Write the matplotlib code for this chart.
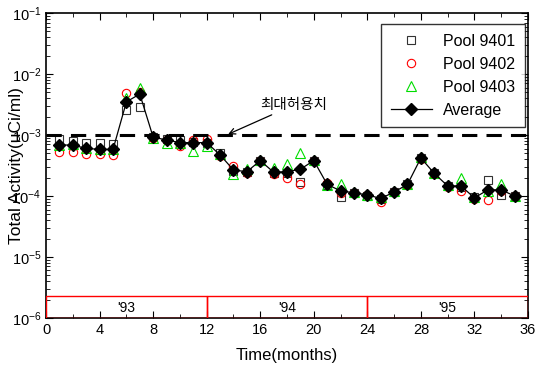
import matplotlib
matplotlib.use('Agg')
import matplotlib.pyplot as plt
from matplotlib.patches import Rectangle
from matplotlib.ticker import LogLocator, MultipleLocator, NullFormatter

plt.rcParams['font.family'] = ['Liberation Sans', 'Noto Sans CJK KR', 'DejaVu Sans']
plt.rcParams['mathtext.fontset'] = 'custom'
plt.rcParams['mathtext.rm'] = 'Liberation Sans'

months = list(range(1, 36))

pool_9401 = [8.5e-4, 8.1e-4, 7.5e-4, 7.3e-4, 7.1e-4, 2.6e-3, 2.9e-3, 9.2e-4, 8.5e-4, 8.3e-4,
             7.8e-4, 7.5e-4, 5.0e-4, 2.6e-4, 2.5e-4, 3.8e-4, 2.4e-4, 2.4e-4, 1.7e-4, 3.8e-4,
             1.5e-4, 9.8e-5, 1.1e-4, 1.0e-4, 9.0e-5, 1.15e-4, 1.55e-4, 4.2e-4, 2.35e-4, 1.46e-4,
             1.4e-4, 9.5e-5, 1.83e-4, 1.04e-4, 1.0e-4]
pool_9402 = [5.3e-4, 5.3e-4, 4.9e-4, 4.9e-4, 4.7e-4, 4.9e-3, 5.0e-3, 9.0e-4, 8.2e-4, 6.5e-4,
             8.3e-4, 8.5e-4, 4.5e-4, 3.1e-4, 2.4e-4, 3.7e-4, 2.3e-4, 1.95e-4, 1.55e-4, 3.8e-4,
             1.65e-4, 1.1e-4, 1.1e-4, 1.05e-4, 8.1e-5, 1.15e-4, 1.5e-4, 4.1e-4, 2.3e-4, 1.42e-4,
             1.22e-4, 9.0e-5, 8.6e-5, 1.2e-4, 1.0e-4]
pool_9403 = [6.9e-4, 7.0e-4, 6.2e-4, 5.9e-4, 5.9e-4, 4.0e-3, 6.0e-3, 9.0e-4, 7.5e-4, 7.5e-4,
             5.5e-4, 6.5e-4, 4.9e-4, 2.3e-4, 2.8e-4, 3.9e-4, 2.9e-4, 3.4e-4, 5.1e-4, 3.9e-4,
             1.5e-4, 1.55e-4, 1.15e-4, 1.05e-4, 9.5e-5, 1.2e-4, 1.55e-4, 4.3e-4, 2.4e-4, 1.5e-4,
             2.0e-4, 9.8e-5, 1.2e-4, 1.57e-4, 1.0e-4]
average = [6.9e-4, 6.8e-4, 6.05e-4, 5.8e-4, 5.8e-4, 3.5e-3, 4.7e-3, 9.2e-4, 8.3e-4, 7.5e-4,
           7.5e-4, 7.5e-4, 4.7e-4, 2.67e-4, 2.5e-4, 3.8e-4, 2.45e-4, 2.5e-4, 2.75e-4, 3.8e-4,
           1.55e-4, 1.21e-4, 1.13e-4, 1.04e-4, 9.1e-5, 1.16e-4, 1.55e-4, 4.2e-4, 2.35e-4, 1.46e-4,
           1.46e-4, 9.3e-5, 1.26e-4, 1.26e-4, 1.0e-4]

limit = 1e-3
years = ["'93", "'94", "'95"]
year_start = [0, 12, 24]

fig = plt.figure(figsize=(5.36, 3.74), dpi=100)
ax = fig.add_axes([0.086, 0.150, 0.899, 0.815])

ax.plot(months, pool_9401, 's', mfc='none', mec='#333333', ms=5.5, mew=0.8, label='Pool 9401')
ax.plot(months, pool_9402, 'o', mfc='none', mec='red', ms=6, mew=0.8, label='Pool 9402')
ax.plot(months, pool_9403, '^', mfc='none', mec='#00dd00', ms=6.5, mew=0.8, label='Pool 9403')
ax.plot(months, average, '-D', color='black', ms=6.5, lw=0.9, label='Average')

ax.axhline(limit, color='black', lw=2.2, ls=(0, (5, 3)))
ax.annotate('최대허용치', xy=(13.6, 1.03e-3), xytext=(16.0, 3.1e-3),
            fontsize=10.5, va='center', ha='left',
            arrowprops=dict(arrowstyle='->', color='black', lw=0.9, shrinkA=0, shrinkB=0))

for yr, x0 in zip(years, year_start):
    ax.add_patch(Rectangle((x0, 1e-6), 12, 1.3e-6, fill=False, ec='red', lw=1.0, zorder=3))
    ax.text(x0 + 6, 1.45e-6, yr, ha='center', va='center', fontsize=10)

ax.set_yscale('log')
ax.set_xlim(0, 36)
ax.set_ylim(1e-6, 1e-1)
ax.xaxis.set_major_locator(MultipleLocator(4))
ax.xaxis.set_minor_locator(MultipleLocator(2))
ax.yaxis.set_major_locator(LogLocator(base=10, numticks=10))
ax.yaxis.set_minor_locator(LogLocator(base=10, subs=range(2, 10), numticks=20))
ax.yaxis.set_minor_formatter(NullFormatter())
ax.tick_params(which='both', direction='in', top=True, right=True, labelsize=10.5)
ax.tick_params(which='major', length=5)
ax.tick_params(which='minor', length=3)
for s in ax.spines.values():
    s.set_linewidth(1.2)

ax.set_xlabel('Time(months)', fontsize=12, labelpad=8)
ax.set_ylabel('Total Activity(uCi/ml)', fontsize=12.5)
ax.yaxis.set_label_coords(-0.045, 0.5)

leg = ax.legend(loc='upper right', bbox_to_anchor=(0.994, 0.964), borderaxespad=0,
                fontsize=11.5, frameon=True, fancybox=False, edgecolor='black',
                handlelength=2.6, borderpad=0.6, labelspacing=0.5, handletextpad=0.7)
leg.get_frame().set_linewidth(1.0)

fig.savefig('out.png', dpi=100)
